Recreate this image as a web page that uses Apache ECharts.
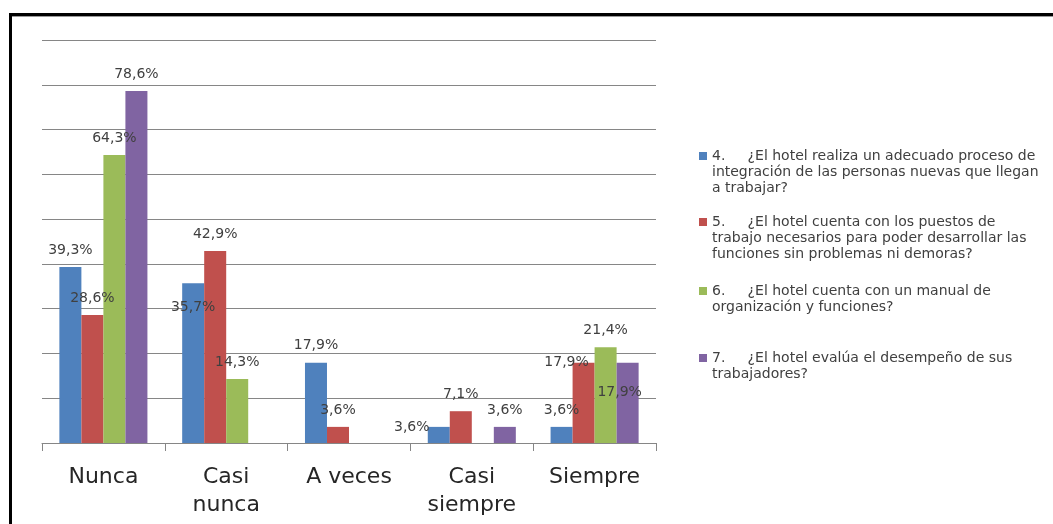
<!DOCTYPE html>
<html>
<head>
<meta charset="utf-8">
<script src="https://cdn.jsdelivr.net/npm/echarts@6/dist/echarts.min.js"></script>
<style>
  html, body { margin: 0; padding: 0; background: #fff; }
  #frame { position: absolute; left: 9px; top: 13px; width: 1100px; height: 600px;
           border-left: 3px solid #000; border-top: 3px solid #000;
           box-shadow: inset 0 1px 0 #9a9a9a; }
  #chart { position: absolute; left: 0; top: 0; width: 1053px; height: 524px; }
</style>
</head>
<body>
<div id="frame"></div>
<div id="chart"></div>
<script>
// ---- data ----
const categories = ['Nunca', 'Casi\nnunca', 'A veces', 'Casi\nsiempre', 'Siempre'];
const seriesNames = [
  '4.     ¿El hotel realiza un adecuado proceso de\nintegración de las personas nuevas que llegan\na trabajar?',
  '5.     ¿El hotel cuenta con los puestos de\ntrabajo necesarios para poder desarrollar las\nfunciones sin problemas ni demoras?',
  '6.     ¿El hotel cuenta con un manual de\norganización y funciones?',
  '7.     ¿El hotel evalúa el desempeño de sus\ntrabajadores?'
];
const q4 = [39.3, 35.7, 17.9, 3.6, 3.6];
const q5 = [28.6, 42.9, 3.6, 7.1, 17.9];
const q6 = [64.3, 14.3, 0, 0, 21.4];
const q7 = [78.6, 0, 0, 3.6, 17.9];
const seriesValues = [q4, q5, q6, q7];

// ---- styling ----
const colors = ['#4F81BD', '#C0504D', '#9BBB59', '#8064A2'];
// label nudges (series index - category index) to mimic the original placement
const labelShift = { '0-1': [0, 41], '0-3': [-27, 17], '1-4': [-17, 17], '3-4': [-8, 47] };
const legendCenters = [152, 218, 287, 354];
const LH = 16;
const SQ = 8;

const chart = echarts.init(document.getElementById('chart'), null, { renderer: 'canvas' });

const series = seriesValues.map((vals, si) => ({
  name: seriesNames[si],
  type: 'bar',
  barGap: '0%',
  barCategoryGap: '28.3%',
  itemStyle: { color: colors[si] },
  label: {
    show: true,
    position: 'top',
    distance: 10,
    fontFamily: 'DejaVu Sans',
    fontSize: 14,
    color: '#404040',
    formatter: p => (p.value ? p.value.toFixed(1).replace('.', ',') + '%' : '')
  },
  data: vals.map((v, ci) => {
    const sh = labelShift[si + '-' + ci];
    return sh ? { value: v, label: { offset: sh } } : v;
  })
}));

// legend: one per item; icon is a square at the top of a taller (invisible) box
// so that the square lines up with the first text line
const legends = seriesNames.map((name, i) => {
  const n = name.split('\n').length;
  const h = SQ + (n - 1) * LH;
  return {
    data: [{ name: name, icon: 'path://M0,0h' + SQ + 'v' + SQ + 'h-' + SQ + 'z M0,' + h + 'h' + SQ }],
    left: 699,
    top: legendCenters[i] - SQ / 2,
    padding: 0,
    itemWidth: SQ,
    itemHeight: h,
    selectedMode: false,
    textStyle: {
      fontFamily: 'DejaVu Sans',
      fontSize: 14,
      color: '#404040',
      lineHeight: LH
    }
  };
});

chart.setOption({
  animation: false,
  backgroundColor: 'transparent',
  grid: { left: 42, right: 397, top: 40, bottom: 81 },
  legend: legends,
  xAxis: {
    type: 'category',
    data: categories,
    axisLine: { lineStyle: { color: '#868686', width: 1 } },
    axisTick: { show: true, length: 8, lineStyle: { color: '#868686' } },
    axisLabel: {
      fontFamily: 'DejaVu Sans',
      fontSize: 22,
      lineHeight: 28,
      color: '#262626',
      margin: 20
    }
  },
  yAxis: {
    type: 'value',
    min: 0,
    max: 90,
    interval: 10,
    axisLabel: { show: false },
    axisLine: { show: false },
    axisTick: { show: false },
    splitLine: { lineStyle: { color: '#868686', width: 1 } }
  },
  series: series
});
</script>
</body>
</html>
